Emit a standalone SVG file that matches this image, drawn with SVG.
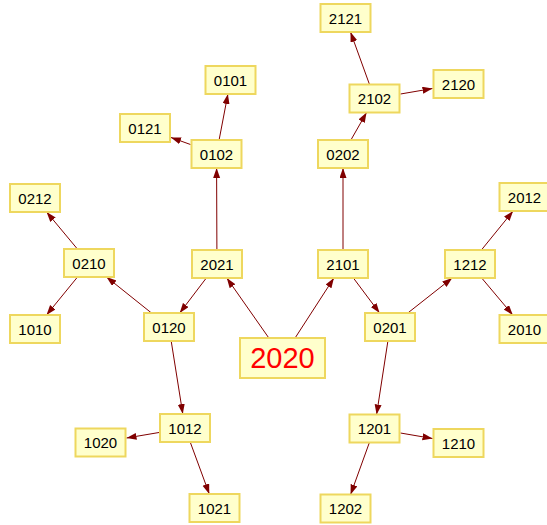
<svg xmlns="http://www.w3.org/2000/svg" width="547" height="525" viewBox="0 0 547 525">
<style>
.n rect{fill:#ffffcc;stroke:#eed75e;stroke-width:2}
.n text{font-family:"Liberation Sans",Arial,sans-serif;font-size:15px;fill:#000;text-anchor:middle;dominant-baseline:central}
#n2020 text{font-size:29px;fill:#ff0000}
.e line{stroke:#800000;stroke-width:1;marker-end:url(#arr)}
</style>
<defs>
<marker id="arr" markerUnits="userSpaceOnUse" markerWidth="11" markerHeight="8" refX="10" refY="3.5" orient="auto">
<path d="M0,0 L10,3.5 L0,7 z" fill="#800000"/>
</marker>
</defs>
<rect width="547" height="525" fill="#ffffff"/>
<g class="e" id="edges">
<line x1="268.5" y1="337.5" x2="226.8" y2="278"/>
<line x1="295.4" y1="337.5" x2="333.9" y2="278"/>
<line x1="206.3" y1="278" x2="179.7" y2="313"/>
<line x1="216.9" y1="250" x2="216.6" y2="168"/>
<line x1="343" y1="250" x2="343" y2="168"/>
<line x1="353.4" y1="278" x2="379.6" y2="313"/>
<line x1="151.5" y1="313" x2="106.5" y2="277"/>
<line x1="171.2" y1="341" x2="182.8" y2="414"/>
<line x1="407.8" y1="313" x2="452.2" y2="278"/>
<line x1="387.9" y1="341" x2="376.6" y2="414.5"/>
<line x1="219.1" y1="140" x2="227.9" y2="94"/>
<line x1="190.5" y1="144.5" x2="171" y2="137.5"/>
<line x1="350.9" y1="140" x2="366.6" y2="112.5"/>
<line x1="369.5" y1="84.5" x2="350.5" y2="32"/>
<line x1="400.5" y1="94" x2="432.5" y2="88.5"/>
<line x1="77.4" y1="249" x2="46.6" y2="212"/>
<line x1="77.5" y1="277" x2="46.5" y2="315"/>
<line x1="481.4" y1="250" x2="513.1" y2="211"/>
<line x1="481.7" y1="278" x2="512.8" y2="315"/>
<line x1="159" y1="432.5" x2="126.5" y2="438"/>
<line x1="190.2" y1="442" x2="209.3" y2="494"/>
<line x1="400.5" y1="433" x2="432.5" y2="438.5"/>
<line x1="369.4" y1="442.5" x2="350.6" y2="494.5"/>
</g>
<g class="n" id="n2020"><rect x="240" y="338" width="85" height="40"/><text x="282.5" y="358">2020</text></g>
<g class="n" id="n2021"><rect x="192" y="250" width="50" height="28"/><text x="217" y="264">2021</text></g>
<g class="n" id="n2101"><rect x="318" y="250" width="50" height="28"/><text x="343" y="264">2101</text></g>
<g class="n" id="n0120"><rect x="144" y="313" width="50" height="28"/><text x="169" y="327">0120</text></g>
<g class="n" id="n0201"><rect x="365" y="313" width="50" height="28"/><text x="390" y="327">0201</text></g>
<g class="n" id="n0102"><rect x="191.5" y="140" width="50" height="28"/><text x="216.5" y="154">0102</text></g>
<g class="n" id="n0202"><rect x="318" y="140" width="50" height="28"/><text x="343" y="154">0202</text></g>
<g class="n" id="n0101"><rect x="205.5" y="66" width="50" height="28"/><text x="230.5" y="80">0101</text></g>
<g class="n" id="n0121"><rect x="120" y="114" width="50" height="28"/><text x="145" y="128">0121</text></g>
<g class="n" id="n2102"><rect x="349.5" y="84.5" width="50" height="28"/><text x="374.5" y="98.5">2102</text></g>
<g class="n" id="n2121"><rect x="320.5" y="4" width="50" height="28"/><text x="345.5" y="18">2121</text></g>
<g class="n" id="n2120"><rect x="433.5" y="70" width="50" height="28"/><text x="458.5" y="84">2120</text></g>
<g class="n" id="n0210"><rect x="64" y="249" width="50" height="28"/><text x="89" y="263">0210</text></g>
<g class="n" id="n0212"><rect x="10" y="184" width="50" height="28"/><text x="35" y="198">0212</text></g>
<g class="n" id="n1010"><rect x="10" y="315" width="50" height="28"/><text x="35" y="329">1010</text></g>
<g class="n" id="n1212"><rect x="445" y="250" width="50" height="28"/><text x="470" y="264">1212</text></g>
<g class="n" id="n2012"><rect x="499.5" y="183" width="50" height="28"/><text x="524.5" y="197">2012</text></g>
<g class="n" id="n2010"><rect x="499.5" y="315" width="50" height="28"/><text x="524.5" y="329">2010</text></g>
<g class="n" id="n1012"><rect x="160" y="414" width="50" height="28"/><text x="185" y="428">1012</text></g>
<g class="n" id="n1020"><rect x="75.5" y="428.5" width="50" height="28"/><text x="100.5" y="442.5">1020</text></g>
<g class="n" id="n1021"><rect x="189.5" y="494" width="50" height="28"/><text x="214.5" y="508">1021</text></g>
<g class="n" id="n1201"><rect x="349.5" y="414.5" width="50" height="28"/><text x="374.5" y="428.5">1201</text></g>
<g class="n" id="n1210"><rect x="433.5" y="429" width="50" height="28"/><text x="458.5" y="443">1210</text></g>
<g class="n" id="n1202"><rect x="320.5" y="494.5" width="50" height="28"/><text x="345.5" y="508.5">1202</text></g>
</svg>
